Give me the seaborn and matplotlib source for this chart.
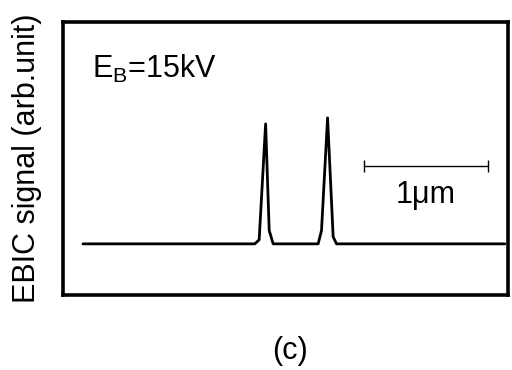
import matplotlib
matplotlib.use("Agg")
import matplotlib.pyplot as plt
import seaborn as sns
import pandas as pd

# EBIC line scan across two boundaries (position in um, signal in arb. units)
position_um = [0.161, 1.548, 1.583, 1.635, 1.664, 1.696,
               2.059, 2.086, 2.135, 2.180, 2.207, 3.565]
signal = [0.0, 0.0, 0.032, 0.952, 0.106, 0.0,
          0.0, 0.106, 1.0, 0.056, 0.0, 0.0]

beam_label = r"E$_\mathrm{B}$=15kV"
scalebar_um = [2.427, 3.427]
scalebar_y = 0.619
scalebar_text = "1\u03bcm"
ylabel = "EBIC signal (arb.unit)"
panel = "(c)"

sns.set_theme(style="white")
plt.rcParams["font.family"] = ["Liberation Sans", "DejaVu Sans"]
plt.rcParams["mathtext.fontset"] = "custom"
plt.rcParams["mathtext.rm"] = "Liberation Sans"
plt.rcParams["mathtext.it"] = "Liberation Sans:italic"

df = pd.DataFrame({"position": position_um, "signal": signal})

fig = plt.figure(figsize=(5.12, 3.70), dpi=100)
ax = fig.add_axes([0.123, 0.203, 0.869, 0.738])

sns.lineplot(data=df, x="position", y="signal", ax=ax, color="black",
             linewidth=2.0, sort=False)

ax.set_xlim(0, 3.59)
ax.set_ylim(-0.405, 1.762)
ax.set_xticks([])
ax.set_yticks([])
ax.set_xlabel("")
ax.set_ylabel(ylabel, fontsize=22, color="black", labelpad=15)

for side in ax.spines.values():
    side.set_visible(True)
    side.set_color("black")
    side.set_linewidth(2.6)

# scale bar
ax.hlines(scalebar_y, scalebar_um[0], scalebar_um[1], color="black", linewidth=1.0)
ax.vlines(scalebar_um, scalebar_y - 0.05, scalebar_y + 0.05, color="black", linewidth=1.0)
ax.text(sum(scalebar_um) / 2, 0.325, scalebar_text, ha="center", va="baseline",
        fontsize=22, color="black")

ax.text(0.065, 0.795, beam_label, transform=ax.transAxes, ha="left",
        va="baseline", fontsize=22, color="black")

fig.text(290 / 512, 1 - 351 / 370, panel, ha="center", va="center",
         fontsize=22, color="black")

fig.savefig("out.png", dpi=100)
